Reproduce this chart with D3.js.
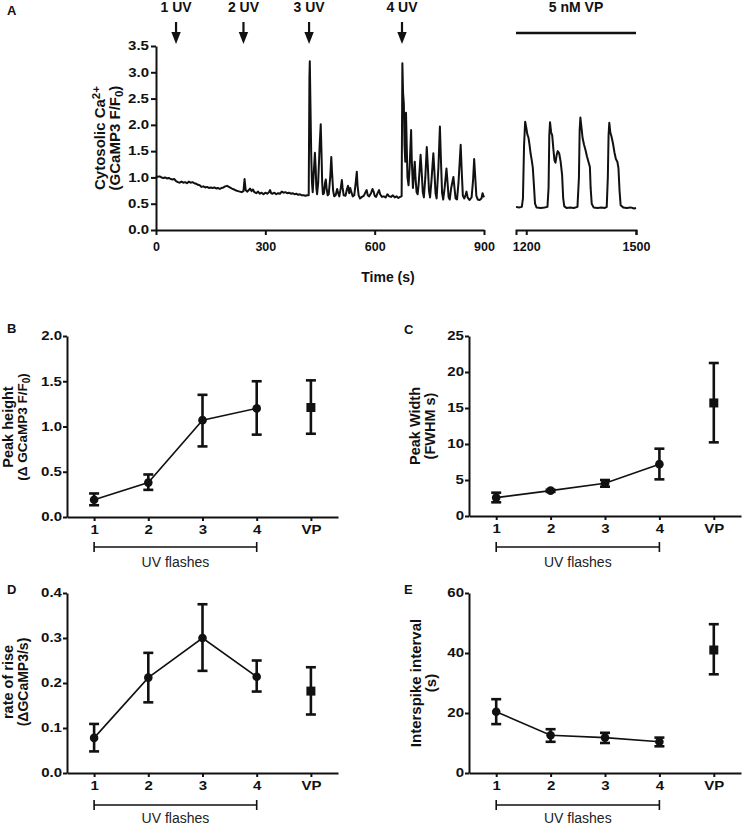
<!DOCTYPE html>
<html>
<head>
<meta charset="utf-8">
<script src="https://cdn.jsdelivr.net/npm/d3@7"></script>
<style>
  body { margin: 0; background: #fff; }
  svg { font-family: "Liberation Sans", Arial, sans-serif; }
  .axis path, .axis line { stroke: #111; stroke-width: 2; }
  .axis text { font-size: 12px; font-weight: bold; fill: #111; }
  /* tick labels in the figure are drawn wide */
  .wide text { transform-box: fill-box; transform: scaleX(1.25); }
  .yaxis.wide text { transform-origin: right center; }
  .xaxis.wide text { transform-origin: center; }
  .plain text { font-size: 12.5px; }
</style>
</head>
<body>
<script>
// Panel A: GCaMP3 trace (time in s, F/F0)
const traceTime = [0,5,10,15,20,25,30,35,40,45,50,55,60,65,70,75,80,85,90,95,100,105,110,115,120,125,130,135,140,145,150,155,160,165,170,175,180,185,190,195,200,205,210,215,220,225,230,235,240,243,246,250,255,258,262,266,270,275,280,285,290,295,300,305,310,313,316,320,325,330,335,340,345,350,355,360,365,370,375,380,385,390,395,400,405,410,415,419,421,422,424,426,428,430,433,436,438,440,442,445,449,452,454,456,458,461,464,466,468,471,474,478,481,483,486,489,493,497,500,503,507,510,512,515,520,524,527,530,533,536,540,544,548,551,553,556,560,565,570,575,578,581,585,590,594,597,600,604,608,612,615,620,625,630,635,640,645,650,655,660,665,670,674,676,678,680,682,684,686,688,690,693,696,700,702,705,708,710,712,715,718,721,726,729,732,735,739,743,746,749,752,756,761,764,767,770,775,779,782,785,788,792,797,800,803,806,810,816,819,822,826,830,836,839,842,846,850,852,855,860,866,870,873,876,879,883,888,893,896,898,900]
const traceValue = [1.03,1.01,1.02,1.00,0.99,1.00,0.98,0.99,0.97,0.96,0.97,0.93,0.91,0.90,0.92,0.90,0.91,0.89,0.92,0.90,0.91,0.89,0.88,0.86,0.85,0.82,0.83,0.81,0.82,0.80,0.81,0.80,0.81,0.79,0.80,0.78,0.80,0.81,0.83,0.84,0.82,0.80,0.78,0.77,0.75,0.74,0.73,0.72,0.74,0.97,0.76,0.73,0.76,0.79,0.74,0.77,0.72,0.70,0.73,0.69,0.71,0.68,0.71,0.69,0.72,0.76,0.70,0.69,0.71,0.68,0.70,0.69,0.73,0.71,0.72,0.70,0.71,0.69,0.70,0.68,0.69,0.67,0.68,0.66,0.66,0.65,0.66,0.66,2.9,3.21,2.3,1.4,0.9,0.72,1.1,1.47,1.2,0.8,0.68,0.9,1.6,2.01,1.5,0.9,0.68,0.7,0.9,0.96,0.8,0.66,0.68,1.0,1.39,1.1,0.75,0.64,0.66,0.78,0.70,0.64,0.8,0.95,0.8,0.66,0.65,0.78,0.84,0.7,0.8,0.72,0.64,0.66,0.9,1.11,0.85,0.66,0.60,0.63,0.65,0.72,0.76,0.66,0.64,0.70,0.78,0.73,0.65,0.63,0.70,0.76,0.68,0.63,0.64,0.62,0.68,0.64,0.63,0.66,0.62,0.64,0.61,0.63,0.64,3.17,2.6,2.41,1.6,1.3,2.23,1.6,1.0,0.85,1.2,1.90,1.3,0.8,1.1,1.30,1.0,0.72,0.68,0.9,1.43,1.1,0.72,0.62,1.0,1.58,1.2,0.75,0.62,0.95,1.46,1.1,0.7,0.6,1.2,1.97,1.3,0.7,0.58,0.8,1.17,0.9,0.62,0.58,0.8,1.01,0.8,0.6,0.58,0.9,1.62,1.1,0.65,0.6,0.68,0.73,0.62,0.57,0.62,0.95,1.35,1.0,0.65,0.58,0.57,0.6,0.7,0.66,0.62]
const vpTime = [1172,1180,1188,1191,1194,1197,1200,1203,1206,1209,1212,1215,1218,1221,1224,1228,1240,1250,1258,1261,1263,1265,1268,1271,1274,1277,1280,1283,1286,1290,1294,1298,1301,1304,1310,1320,1330,1340,1344,1346,1348,1351,1354,1358,1362,1366,1370,1374,1376,1379,1384,1395,1405,1415,1420,1423,1425,1427,1430,1433,1437,1441,1445,1449,1452,1455,1458,1465,1475,1485,1495,1500]
const vpValue = [0.44,0.43,0.44,0.6,1.6,2.06,1.95,1.82,1.76,1.62,1.45,1.33,1.18,0.85,0.5,0.43,0.42,0.43,0.44,0.8,1.8,2.05,1.86,1.80,1.55,1.33,1.28,1.42,1.50,1.46,1.30,1.05,0.6,0.45,0.42,0.43,0.42,0.44,1.0,1.9,2.14,1.95,1.75,1.62,1.52,1.40,1.30,1.20,0.8,0.5,0.43,0.42,0.43,0.42,0.44,1.0,1.8,2.04,1.85,1.78,1.65,1.48,1.35,1.30,1.18,0.75,0.47,0.43,0.42,0.43,0.41,0.42]
const flashTimes = [55, 240, 420, 675]
const flashLabels = ['1 UV', '2 UV', '3 UV', '4 UV']
const traceYTicks = [0, 0.5, 1, 1.5, 2, 2.5, 3, 3.5]

// Panels B-E: mean with error bars
const cats = ['1', '2', '3', '4', 'VP']
const heightMean = [0.19, 0.38, 1.07, 1.20, 1.21]
const heightLo = [0.13, 0.30, 0.78, 0.91, 0.92]
const heightHi = [0.26, 0.47, 1.35, 1.50, 1.51]
const widthMean = [2.55, 3.52, 4.54, 7.2, 15.7]
const widthLo = [1.9, 3.35, 4.07, 5.09, 10.23]
const widthHi = [3.24, 3.65, 5.0, 9.35, 21.25]
const riseMean = [0.078, 0.212, 0.300, 0.214, 0.182]
const riseLo = [0.048, 0.157, 0.227, 0.181, 0.130]
const riseHi = [0.109, 0.267, 0.375, 0.250, 0.235]
const intervalMean = [20.4, 12.6, 11.8, 10.4, 41.0]
const intervalLo = [16.3, 10.4, 10.0, 8.9, 32.9]
const intervalHi = [24.6, 14.6, 13.4, 11.8, 49.6]

const svg = d3.select('body').append('svg')
    .attr('width', 744)
    .attr('height', 826)

// text with sub/superscript pieces: [string, 'sub' | 'sup' | null]
function richText(sel, parts, size) {
    let shift = 0
    parts.forEach(function(p) {
        let target = p[1] === 'sup' ? -5 : p[1] === 'sub' ? 3 : 0
        sel.append('tspan')
            .attr('dy', target - shift)
            .style('font-size', p[1] ? (size - 3.5) + 'px' : size + 'px')
            .text(p[0])
        shift = target
    })
}

function rotLabel(x, y, parts, size) {
    let t = svg.append('text')
        .attr('transform', 'translate(' + x + ',' + y + ') rotate(-90)')
        .attr('text-anchor', 'middle')
        .style('font-weight', 'bold')
        .attr('fill', '#111')
    richText(t, parts, size)
}

function panelLetter(letter, x, y) {
    svg.append('text').attr('x', x).attr('y', y)
        .style('font-size', '13px').style('font-weight', 'bold')
        .attr('fill', '#111').text(letter)
}

// ---------- Panel A ----------
panelLetter('A', 7, 15)

let yA = d3.scaleLinear().domain([0, 3.5]).range([230, 46])
let xA1 = d3.scaleLinear().domain([0, 900]).range([156, 484])
let xA2 = d3.scaleLinear().domain([1172, 1500]).range([516, 636])

svg.append('g').attr('class', 'axis yaxis wide')
    .attr('transform', 'translate(156,0)')
    .call(d3.axisLeft(yA).tickValues(traceYTicks).tickFormat(d3.format('.1f')).tickSize(5).tickSizeOuter(0).tickPadding(2))

svg.append('g').attr('class', 'axis plain')
    .attr('transform', 'translate(0,230)')
    .call(d3.axisBottom(xA1).tickValues([0, 300, 600, 900]).tickFormat(d3.format('d')).tickSize(5).tickSizeOuter(0).tickPadding(7))

svg.append('g').attr('class', 'axis plain')
    .attr('transform', 'translate(0,230)')
    .call(d3.axisBottom(xA2).tickValues([1200, 1500]).tickFormat(d3.format('d')).tickSize(5).tickSizeOuter(5).tickPadding(7))

let trace1 = traceTime.map(function(t, i) { return [t, traceValue[i]] })
let trace2 = vpTime.map(function(t, i) { return [t, vpValue[i]] })

svg.append('path').datum(trace1)
    .attr('fill', 'none').attr('stroke', '#111').attr('stroke-width', 2)
    .attr('stroke-linejoin', 'round')
    .attr('d', d3.line().x(function(d) { return xA1(d[0]) }).y(function(d) { return yA(d[1]) }))

svg.append('path').datum(trace2)
    .attr('fill', 'none').attr('stroke', '#111').attr('stroke-width', 2)
    .attr('stroke-linejoin', 'round')
    .attr('d', d3.line().x(function(d) { return xA2(d[0]) }).y(function(d) { return yA(d[1]) }))

// UV flash arrows
flashTimes.forEach(function(t, i) {
    let x = xA1(t)
    svg.append('text').attr('x', x).attr('y', 12)
        .attr('text-anchor', 'middle')
        .style('font-size', '14px').style('font-weight', 'bold')
        .attr('fill', '#111').text(flashLabels[i])
    svg.append('line').attr('x1', x).attr('x2', x).attr('y1', 22).attr('y2', 34)
        .attr('stroke', '#111').attr('stroke-width', 2.2)
    svg.append('path')
        .attr('d', 'M' + (x - 4.7) + ',32 L' + (x + 4.7) + ',32 L' + x + ',44 Z')
        .attr('fill', '#111')
})

// vasopressin bar
svg.append('text').attr('x', (xA2(1172) + xA2(1500)) / 2).attr('y', 12)
    .attr('text-anchor', 'middle')
    .style('font-size', '14px').style('font-weight', 'bold')
    .attr('fill', '#111').text('5 nM VP')
svg.append('line')
    .attr('x1', xA2(1172)).attr('x2', xA2(1500)).attr('y1', 33).attr('y2', 33)
    .attr('stroke', '#111').attr('stroke-width', 2.5)

svg.append('text').attr('x', 388).attr('y', 282)
    .attr('text-anchor', 'middle')
    .style('font-size', '14px').style('font-weight', 'bold')
    .attr('fill', '#111').text('Time (s)')

rotLabel(105, 138, [['Cytosolic Ca', null], ['2+', 'sup']], 15)
rotLabel(120, 138, [['(GCaMP3 F/F', null], ['0', 'sub'], [')', null]], 15)

// ---------- Panels B-E ----------
function drawPanel(cfg) {
    let x = d3.scalePoint().domain(cats).range([cfg.x0, cfg.x1]).padding(0.5)
    let y = d3.scaleLinear().domain([0, cfg.max]).range([cfg.yb, cfg.yt])

    svg.append('g').attr('class', 'axis yaxis wide')
        .attr('transform', 'translate(' + cfg.x0 + ',0)')
        .call(d3.axisLeft(y).tickValues(cfg.ticks).tickFormat(d3.format(cfg.fmt)).tickSize(4).tickSizeOuter(0).tickPadding(1))

    svg.append('g').attr('class', 'axis xaxis wide')
        .attr('transform', 'translate(0,' + cfg.yb + ')')
        .call(d3.axisBottom(x).tickSize(4).tickSizeOuter(0).tickPadding(4))

    let g = svg.append('g')

    // connecting line for UV flashes
    g.append('path')
        .datum(cats.slice(0, 4))
        .attr('fill', 'none').attr('stroke', '#111').attr('stroke-width', 1.6)
        .attr('d', d3.line().x(function(d) { return x(d) }).y(function(d, i) { return y(cfg.mean[i]) }))

    cats.forEach(function(c, i) {
        let cx = x(c)
        g.append('line').attr('x1', cx).attr('x2', cx)
            .attr('y1', y(cfg.lo[i])).attr('y2', y(cfg.hi[i]))
            .attr('stroke', '#111').attr('stroke-width', 2.6)
        ;[cfg.lo[i], cfg.hi[i]].forEach(function(v) {
            g.append('line').attr('x1', cx - 5).attr('x2', cx + 5)
                .attr('y1', y(v)).attr('y2', y(v))
                .attr('stroke', '#111').attr('stroke-width', 2.6)
        })
        if (c === 'VP') {
            g.append('rect').attr('x', cx - 4.5).attr('y', y(cfg.mean[i]) - 4.5)
                .attr('width', 9).attr('height', 9).attr('fill', '#111')
        } else {
            g.append('circle').attr('cx', cx).attr('cy', y(cfg.mean[i]))
                .attr('r', 4.3).attr('fill', '#111')
        }
    })

    // UV flashes bracket
    let bx0 = x('1'), bx1 = x('4')
    g.append('path')
        .attr('d', 'M' + bx0 + ',' + (cfg.by - 5) + 'V' + (cfg.by + 5) + 'M' + bx0 + ',' + cfg.by +
            'H' + bx1 + 'M' + bx1 + ',' + (cfg.by - 5) + 'V' + (cfg.by + 5))
        .attr('fill', 'none').attr('stroke', '#111').attr('stroke-width', 1.6)
    g.append('text').attr('x', (bx0 + bx1) / 2).attr('y', cfg.uy)
        .attr('text-anchor', 'middle')
        .style('font-size', '14px').attr('fill', '#222').text('UV flashes')

    panelLetter(cfg.letter, cfg.lx, cfg.ly)
    rotLabel(cfg.t1x, cfg.ty, cfg.title1, cfg.ts1)
    rotLabel(cfg.t2x, cfg.ty, cfg.title2, cfg.ts2)
}

drawPanel({
    letter: 'B', lx: 7, ly: 333,
    x0: 67, x1: 338, yb: 517, yt: 336, by: 547, uy: 567,
    max: 2, ticks: [0, 0.5, 1, 1.5, 2], fmt: '.1f',
    mean: heightMean, lo: heightLo, hi: heightHi,
    t1x: 13, t2x: 27, ty: 427, ts1: 14.5, ts2: 13.5,
    title1: [['Peak height', null]],
    title2: [['(\u0394 GCaMP3 F/F', null], ['0', 'sub'], [')', null]]
})

drawPanel({
    letter: 'C', lx: 404, ly: 334,
    x0: 469, x1: 741, yb: 516, yt: 336, by: 547, uy: 567,
    max: 25, ticks: [0, 5, 10, 15, 20, 25], fmt: 'd',
    mean: widthMean, lo: widthLo, hi: widthHi,
    t1x: 420, t2x: 435, ty: 426, ts1: 14.5, ts2: 14.5,
    title1: [['Peak Width', null]],
    title2: [['(FWHM s)', null]]
})

drawPanel({
    letter: 'D', lx: 7, ly: 594,
    x0: 67, x1: 338, yb: 773, yt: 593, by: 805, uy: 823,
    max: 0.4, ticks: [0, 0.1, 0.2, 0.3, 0.4], fmt: '.1f',
    mean: riseMean, lo: riseLo, hi: riseHi,
    t1x: 13, t2x: 28, ty: 682, ts1: 14.5, ts2: 14,
    title1: [['rate of rise', null]],
    title2: [['(\u0394GCaMP3/s)', null]]
})

drawPanel({
    letter: 'E', lx: 404, ly: 594,
    x0: 469, x1: 741, yb: 773, yt: 593, by: 805, uy: 823,
    max: 60, ticks: [0, 20, 40, 60], fmt: 'd',
    mean: intervalMean, lo: intervalLo, hi: intervalHi,
    t1x: 421, t2x: 436, ty: 683, ts1: 15, ts2: 15,
    title1: [['Interspike interval', null]],
    title2: [['(s)', null]]
})
</script>
</body>
</html>
